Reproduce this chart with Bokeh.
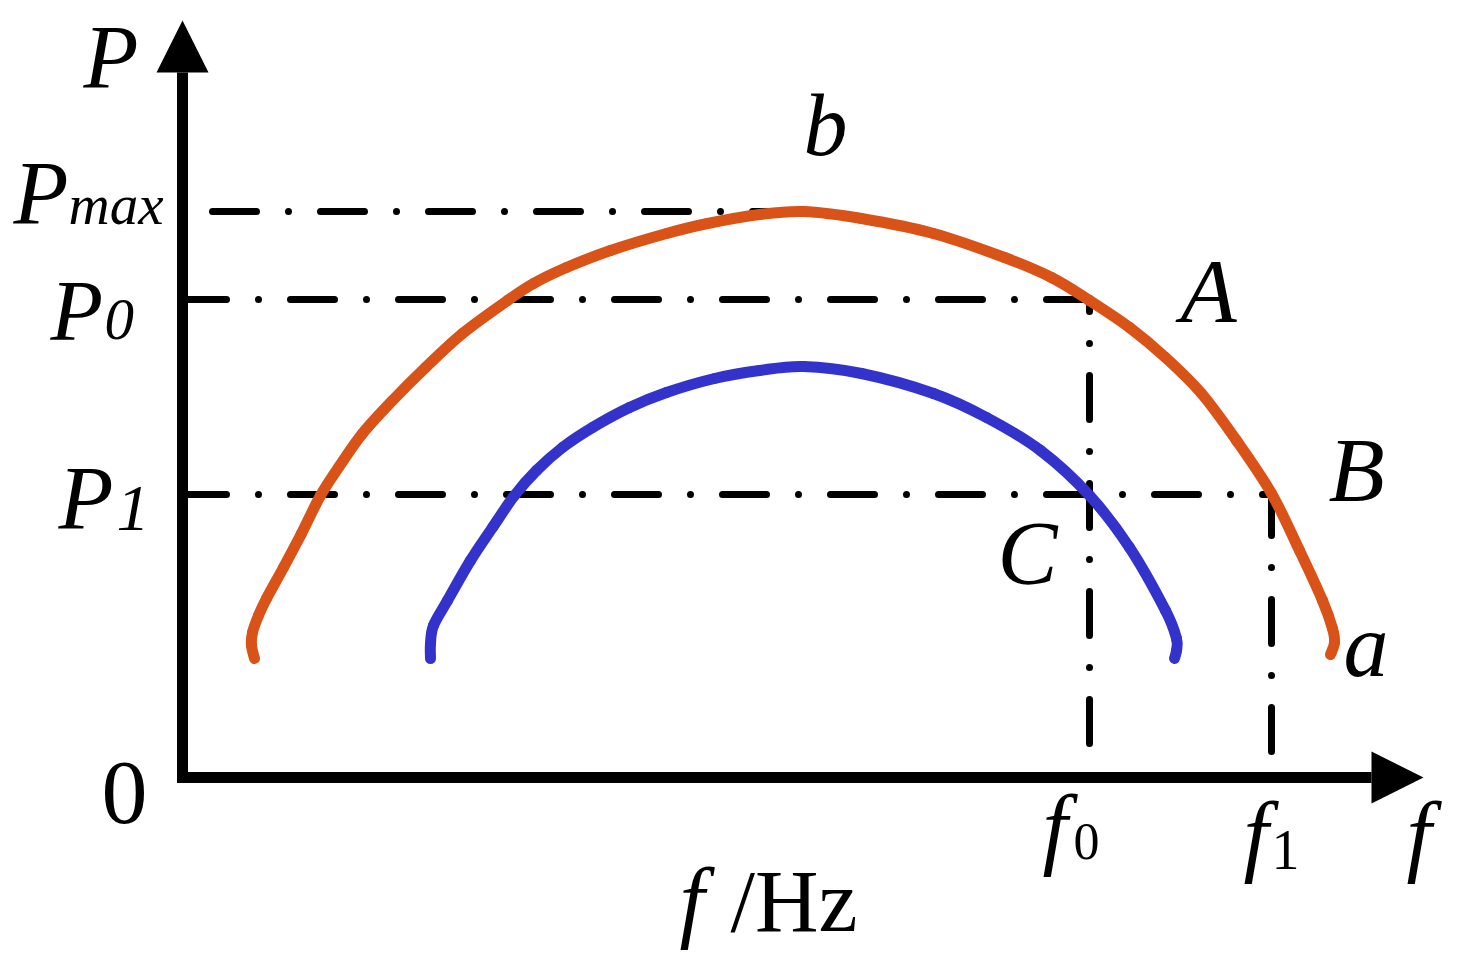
from bokeh.plotting import figure
from bokeh.models import Range1d
from bokeh.core.properties import value
from bokeh.embed import file_html
from bokeh.resources import INLINE

# ---- data (schematic units: f to the right, P upwards, origin at the axes corner) ----
# outer curve "a" (orange)
f_a = [72, 69, 70, 76, 84, 101, 119, 138, 156, 180, 210, 243, 280, 325, 351, 384, 428,
       484, 525, 577, 621, 679, 751, 822, 869, 907, 947, 983, 1019, 1054, 1089, 1117,
       1140, 1150, 1152, 1148]
P_a = [119, 132, 145, 162, 179, 210, 244, 282, 310, 344, 377, 410, 444, 477, 494, 510, 527,
       544, 554, 563, 566, 559, 544, 520, 500, 477, 450, 420, 384, 337, 284, 227,
       177, 149, 135, 123]
# inner curve (blue)
f_c = [248, 248, 251, 265, 288, 310, 332, 354, 380, 410, 447, 484, 532, 577, 621, 679,
       751, 804, 858, 907, 947, 983, 994, 994, 992]
P_c = [119, 134, 152, 177, 217, 250, 282, 307, 330, 350, 370, 385, 399, 407, 411, 404,
       384, 360, 327, 282, 230, 167, 139, 127, 119]

P_max, P0, P1 = 566, 478, 283
f_peak, f0, f1 = 621, 907, 1089

ORANGE = "#D95319"
BLUE = "#3333CC"
SERIF = "Liberation Serif"

p = figure(width=1469, height=967, x_range=Range1d(-182, 1287), y_range=Range1d(-190, 777),
           output_backend="svg", toolbar_location=None, x_axis_location=None,
           y_axis_location=None, min_border=0, outline_line_color=None)
p.grid.visible = False
p.background_fill_color = "white"
p.border_fill_color = "white"

# ---- dash-dot guide lines ----
DASH = "44 32 0 32"
guide = dict(line_color="black", line_width=7, line_dash=DASH, line_cap="round")
p.line([30, f_peak], [P_max, P_max], **guide)
p.line([0, f0], [P0, P0], **guide)
p.line([0, f1], [P1, P1], **guide)
p.line([f0, f0], [34, P0], **guide)
p.line([f1, f1], [P1 + 3, 26], **guide)


# ---- curves: smooth cubic segments through the read points ----
def smooth(xs, ys, color):
    n = len(xs)
    x0, y0, x1, y1, cx0, cy0, cx1, cy1 = [], [], [], [], [], [], [], []
    for k in range(n - 1):
        km, kp2 = max(k - 1, 0), min(k + 2, n - 1)
        x0.append(xs[k]); y0.append(ys[k]); x1.append(xs[k + 1]); y1.append(ys[k + 1])
        cx0.append(xs[k] + (xs[k + 1] - xs[km]) / 6.0)
        cy0.append(ys[k] + (ys[k + 1] - ys[km]) / 6.0)
        cx1.append(xs[k + 1] - (xs[kp2] - xs[k]) / 6.0)
        cy1.append(ys[k + 1] - (ys[kp2] - ys[k]) / 6.0)
    p.bezier(x0=x0, y0=y0, x1=x1, y1=y1, cx0=cx0, cy0=cy0, cx1=cx1, cy1=cy1,
             line_color=color, line_width=11, line_cap="round")


smooth(f_a, P_a, ORANGE)
smooth(f_c, P_c, BLUE)

# ---- axes with arrows ----
y_top, x_right, head, half = 757, 1241, 52, 26
p.line([0, 0, x_right - head], [y_top - head, 0, 0], line_color="black", line_width=11,
       line_join="miter")
p.patch([-half, 0, half], [y_top - head, y_top, y_top - head], color="black", line_width=0)
p.patch([x_right - head, x_right, x_right - head], [half, 0, -half], color="black", line_width=0)


def label(x, y, txt, size, italic=True):
    p.text(x=[x], y=[y], text=[txt], text_font=value(SERIF),
           text_font_style="italic" if italic else "normal",
           text_font_size=f"{size}px", text_baseline="alphabetic", text_align="left",
           text_color="black")


# axis names
label(-99, 720, "P", 90)
label(1224, -57, "f", 90)
label(-81, -15, "0", 92, italic=False)
# P levels
label(-169, 584, "P", 90)
label(-114, 573, "max", 57)
label(-132, 467, "P", 86)
label(-78, 458, "0", 59)
label(-124, 279, "P", 90)
label(-66, 269, "1", 66)
# f levels
label(860, -50, "f", 90)
label(891, -64, "0", 52, italic=False)
label(1061, -57, "f", 90)
label(1089, -72, "1", 56, italic=False)
# points
label(f_peak, 652, "b", 88)
label(998, 487, "A", 92)
label(1146, 308, "B", 92)
label(815, 224, "C", 90)
label(1161, 132, "a", 90)
# bottom caption
label(497, -123, "f", 90)
label(548, -124, "/Hz", 88, italic=False)

open("out.html", "w").write(file_html(p, INLINE))
